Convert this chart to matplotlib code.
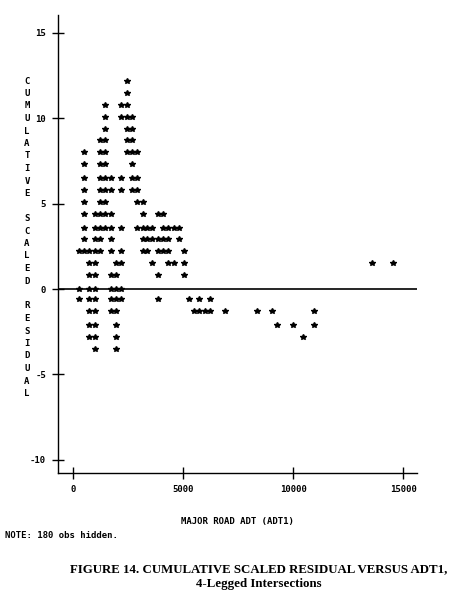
import matplotlib
matplotlib.use("Agg")
import matplotlib.pyplot as plt

plt.rcParams["axes.unicode_minus"] = False

# values (x = ADT1, y = cumulative scaled residual)
adt = [
    2430,
    2430,
    1450, 2170, 2430,
    1450, 2170, 2430, 2670,
    1450, 2430, 2670,
    1210, 1450, 2430, 2670,
    490, 1210, 1450, 2430, 2670, 2910,
    490, 1210, 1450, 2670,
    490, 1210, 1450, 1700, 2170, 2670, 2910,
    490, 1210, 1450, 1700, 2170, 2670, 2910,
    490, 1210, 1450, 2910, 3150,
    490, 970, 1210, 1450, 1700, 3150, 3840, 4080,
    490, 970, 1210, 1450, 1700, 2170, 2910, 3150, 3360, 3600, 4080, 4320, 4560, 4790,
    490, 970, 1210, 1700, 3150, 3360, 3600, 3840, 4080, 4320, 4790,
    250, 490, 730, 970, 1210, 1700, 2170, 3150, 3360, 3840, 4080, 4320, 5030,
    730, 970, 1930, 2170, 3600, 4320, 4560, 5030, 13580, 14530,
    730, 970, 1700, 1930, 3840, 5030,
    250, 730, 970, 1700, 1930, 2170,
    250, 730, 970, 1700, 1930, 2170, 3840, 5260, 5730, 6210,
    730, 970, 1700, 1930, 5490, 5730, 5970, 6210, 6910, 8340, 9030, 10940,
    730, 970, 1930, 9270, 9970, 10940,
    730, 970, 1930, 10450,
    970, 1930,
]
resid = (
    [12.2] * 1 + [11.5] * 1 + [10.8] * 3 + [10.1] * 4 + [9.4] * 3 + [8.7] * 4
    + [8.0] * 6 + [7.3] * 4 + [6.5] * 7 + [5.8] * 7 + [5.1] * 5 + [4.4] * 8
    + [3.6] * 14 + [2.9] * 11 + [2.2] * 13 + [1.5] * 10 + [0.8] * 6
    + [0.0] * 6 + [-0.6] * 10 + [-1.3] * 12 + [-2.1] * 6 + [-2.8] * 4
    + [-3.5] * 2
)

xticks = [0, 5000, 10000, 15000]
yticks = [-10, -5, 0, 5, 10, 15]
ylabel = "CUMULATIVE SCALED RESIDUAL"

mono = "DejaVu Sans Mono"

fig = plt.figure(figsize=(4.6, 5.97), dpi=100)
ax = fig.add_axes([0.126, 0.2082, 0.7805, 0.7667])

ax.axhline(0, color="black", lw=1.2, zorder=1)
ax.plot(adt, resid, linestyle="none", marker="*", color="black",
        markersize=3.8, zorder=2)

ax.set_xlim(-695, 15620)
ax.set_ylim(-10.76, 16.05)
ax.set_xticks(xticks)
ax.set_yticks(yticks)
for s in ("top", "right"):
    ax.spines[s].set_visible(False)
for s in ("left", "bottom"):
    ax.spines[s].set_linewidth(1.0)
ax.tick_params(direction="inout", length=9, width=1.0, labelsize=6.5, pad=4)
for lab in ax.get_xticklabels() + ax.get_yticklabels():
    lab.set_fontfamily(mono)
    lab.set_fontweight("bold")

ax.set_xlabel("MAJOR ROAD ADT (ADT1)", fontfamily=mono, fontweight="bold",
              fontsize=6.5, labelpad=17)

# vertical stacked y label
top_px, step_px = 81, 12.5
for i, ch in enumerate(ylabel):
    if ch == " ":
        continue
    fig.text(27 / 460, 1 - (top_px + i * step_px) / 597, ch, ha="center",
             va="center", fontfamily=mono, fontweight="bold", fontsize=6.5)

fig.text(5 / 460, 1 - 535 / 597, "NOTE: 180 obs hidden.", ha="left",
         va="center", fontfamily=mono, fontweight="bold", fontsize=6.5)

fig.text(259 / 460, 1 - 569 / 597,
         "FIGURE 14. CUMULATIVE SCALED RESIDUAL VERSUS ADT1,",
         ha="center", va="center", fontfamily="Liberation Serif",
         fontweight="bold", fontsize=9.3)
fig.text(259 / 460, 1 - 584 / 597, "4-Legged Intersections",
         ha="center", va="center", fontfamily="Liberation Serif",
         fontweight="bold", fontsize=9.3)

fig.savefig("out.png", dpi=100)
